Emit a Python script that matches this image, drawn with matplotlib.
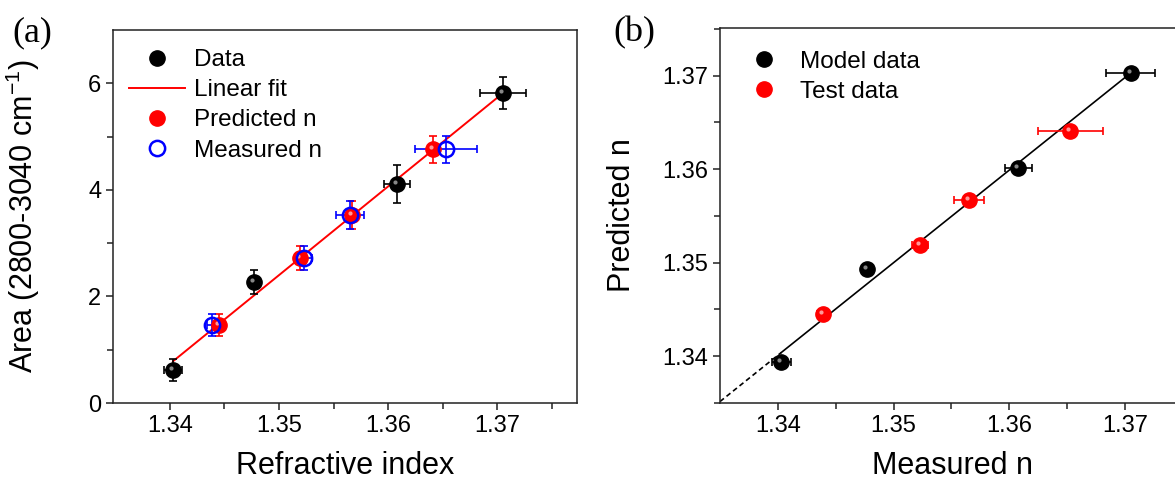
import numpy as np
import matplotlib
matplotlib.use("Agg")
import matplotlib.pyplot as plt
from matplotlib.lines import Line2D
from matplotlib.transforms import offset_copy

# model (calibration) samples
n_model_meas = [1.3403, 1.3477, 1.3608, 1.3705]
n_model_meas_err = [0.0008, 0.0003, 0.0012, 0.0021]
n_model_pred = [1.3394, 1.3493, 1.3601, 1.3703]
area_model = [0.62, 2.27, 4.11, 5.81]
area_model_err = [0.21, 0.23, 0.35, 0.30]

# test samples
n_test_meas = [1.3439, 1.3523, 1.3565, 1.3653]
n_test_meas_err = [0.0005, 0.0007, 0.0013, 0.0028]
n_test_pred = [1.3445, 1.3519, 1.3567, 1.3641]
area_test = [1.46, 2.72, 3.53, 4.76]
area_test_err = [0.21, 0.23, 0.27, 0.26]

plt.rcParams['font.family'] = ['Liberation Sans', 'DejaVu Sans']
plt.rcParams['mathtext.fontset'] = 'custom'
plt.rcParams['mathtext.rm'] = 'Liberation Sans'

W, H = 1175, 483
fig = plt.figure(figsize=(W / 100, H / 100), dpi=100)

MS = 11
TICK_FS = 17
LAB_FS = 22
LEG_FS = 17.5


def ball(ax, x, y, color, hl):
    ax.plot(x, y, 'o', ms=MS, color=color, mec=color, zorder=4, ls='none')
    tr = offset_copy(ax.transData, fig=fig, x=-1.5, y=1.5, units='points')
    ax.plot(x, y, 'o', ms=3, color=hl, mec='none', alpha=0.8, zorder=5,
            ls='none', transform=tr)


def style_axes(ax):
    for s in ax.spines.values():
        s.set_linewidth(1.1)
        s.set_color('#222222')
    ax.tick_params(which='both', direction='out', top=False, right=False,
                   labelsize=TICK_FS, width=1.1, color='#222222')
    ax.tick_params(which='major', length=5)
    ax.tick_params(which='minor', length=4)


eb = dict(ls='none', capsize=3, elinewidth=1.2, capthick=1.2, zorder=3)

# ---------------- (a) ----------------
ax1 = fig.add_axes([113 / W, 80 / H, 464 / W, 373 / H])
style_axes(ax1)

a, b = np.polyfit(n_model_meas, area_model, 1)
xf = np.array([n_model_meas[0], n_model_meas[-1]])
ax1.plot(xf, a * xf + b, color='red', lw=1.4, zorder=2)

ax1.errorbar(n_model_meas, area_model, xerr=n_model_meas_err, yerr=area_model_err,
             color='black', **eb)
ax1.errorbar(n_test_pred, area_test, yerr=area_test_err, color='red', **eb)
ax1.errorbar(n_test_meas, area_test, xerr=n_test_meas_err, yerr=area_test_err,
             color='blue', **eb)
ball(ax1, n_model_meas, area_model, 'black', '#aaaaaa')
ball(ax1, n_test_pred, area_test, 'red', '#ffc0c0')
ax1.plot(n_test_meas, area_test, 'o', ms=MS, mfc='none', mec='blue', mew=1.8,
         zorder=6, ls='none')

ax1.set_xlim(1.3348, 1.3773)
ax1.set_ylim(0, 7)
ax1.set_xticks([1.34, 1.35, 1.36, 1.37])
ax1.set_xticks([1.345, 1.355, 1.365, 1.375], minor=True)
ax1.set_xticklabels(['1.34', '1.35', '1.36', '1.37'])
ax1.set_yticks([0, 2, 4, 6])
ax1.set_yticks([1, 3, 5], minor=True)
ax1.set_xlabel('Refractive index', fontsize=LAB_FS, labelpad=10)
ax1.set_ylabel(r'Area (2800-3040 cm$^{-1}$)', fontsize=LAB_FS)
ax1.yaxis.set_label_coords(-0.153, 0.5)

h1 = [Line2D([], [], marker='o', ls='none', ms=MS, color='black'),
      Line2D([], [], color='red', lw=1.4),
      Line2D([], [], marker='o', ls='none', ms=MS, color='red'),
      Line2D([], [], marker='o', ls='none', ms=MS, mfc='none', mec='blue', mew=1.8)]
ax1.legend(h1, ['Data', 'Linear fit', 'Predicted n', 'Measured n'],
           loc='upper left', bbox_to_anchor=(0.035, 0.948), frameon=False,
           fontsize=LEG_FS, handlelength=2.3, handletextpad=0.35,
           labelspacing=0.33, borderpad=0, borderaxespad=0)

# ---------------- (b) ----------------
ax2 = fig.add_axes([720 / W, 80 / H, 465 / W, 375 / H])
style_axes(ax2)

c, d = np.polyfit(n_model_meas, n_model_pred, 1)
xs = np.array([n_model_meas[0], n_model_meas[-1]])
ax2.plot(xs, c * xs + d, color='black', lw=1.2, zorder=2)
xd = np.array([1.335, n_model_meas[0]])
ax2.plot(xd, c * xd + d, color='black', lw=1.2, ls=(0, (3, 2)), zorder=2)

ax2.errorbar(n_model_meas, n_model_pred, xerr=n_model_meas_err, color='black', **eb)
ax2.errorbar(n_test_meas, n_test_pred, xerr=n_test_meas_err, color='red', **eb)
ball(ax2, n_model_meas, n_model_pred, 'black', '#aaaaaa')
ball(ax2, n_test_meas, n_test_pred, 'red', '#ffc0c0')

ax2.set_xlim(1.335, 1.3752)
ax2.set_ylim(1.335, 1.3751)
ax2.set_xticks([1.34, 1.35, 1.36, 1.37])
ax2.set_xticks([1.345, 1.355, 1.365, 1.375], minor=True)
ax2.set_xticklabels(['1.34', '1.35', '1.36', '1.37'])
ax2.set_yticks([1.34, 1.35, 1.36, 1.37])
ax2.set_yticks([1.335, 1.345, 1.355, 1.365, 1.375], minor=True)
ax2.set_yticklabels(['1.34', '1.35', '1.36', '1.37'])
ax2.set_xlabel('Measured n', fontsize=LAB_FS, labelpad=10)
ax2.set_ylabel('Predicted n', fontsize=LAB_FS)
ax2.yaxis.set_label_coords(-0.178, 0.5)

h2 = [Line2D([], [], marker='o', ls='none', ms=MS, color='black'),
      Line2D([], [], marker='o', ls='none', ms=MS, color='red')]
ax2.legend(h2, ['Model data', 'Test data'],
           loc='upper left', bbox_to_anchor=(0.034, 0.939), frameon=False,
           fontsize=LEG_FS, handlelength=2.3, handletextpad=0.35,
           labelspacing=0.33, borderpad=0, borderaxespad=0)

fig.text(12 / W, 1 - 33 / H, '(a)', fontsize=26, family='Liberation Serif', va='center')
fig.text(613 / W, 1 - 33 / H, '(b)', fontsize=26, family='Liberation Serif', va='center')

fig.savefig('out.png', dpi=100)
